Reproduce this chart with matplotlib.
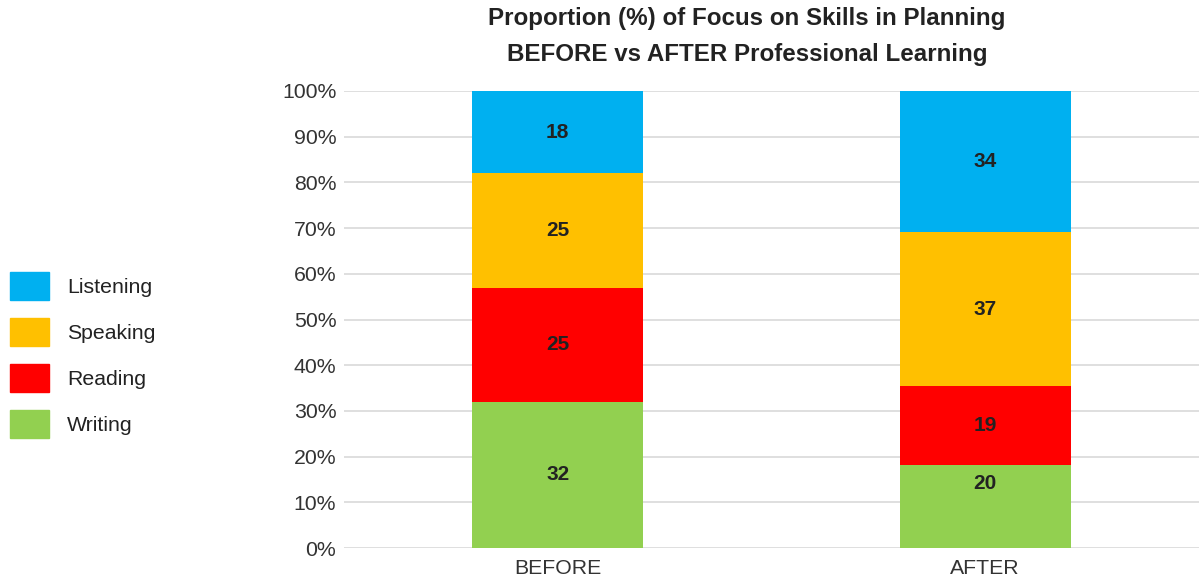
"""
Stacked 100% bar chart: focus on skills in planning, before vs after.
"""

import matplotlib.pyplot as plt
import numpy as np
from matplotlib.patches import Patch
from matplotlib.ticker import PercentFormatter

plt.rcParams['font.family'] = ['Liberation Sans', 'DejaVu Sans']

categories = ['BEFORE', 'AFTER']
skills = ['Writing', 'Reading', 'Speaking', 'Listening']
writing = [32, 20]
reading = [25, 19]
speaking = [25, 37]
listening = [18, 34]
colors = ['#92d050', '#ff0000', '#ffc000', '#00b0f0']

vals = np.array([writing, reading, speaking, listening], dtype=float)
pct = vals / vals.sum(axis=0) * 100

fig = plt.figure(figsize=(11.99, 5.79), dpi=100)
ax = fig.add_axes([344/1199, 1 - 548/579, 1 - 344/1199, (548 - 91)/579])

x = np.arange(len(categories))
bottom = np.zeros(len(categories))
for k in range(len(skills)):
    ax.bar(x, pct[k], 0.4, bottom=bottom, color=colors[k], zorder=2)
    for i in range(len(categories)):
        # label sits mid-segment, but not too close to the axis
        ylab = max(bottom[i] + pct[k][i] / 2, 14.2)
        ax.text(x[i], ylab, '%d' % vals[k][i],
                ha='center', va='center', fontsize=15, weight='bold',
                color='#222222', zorder=3)
    bottom += pct[k]

ax.set_xlim(-0.5, 1.5)
ax.set_ylim(0, 100)
ax.set_yticks(np.arange(0, 101, 10))
ax.yaxis.set_major_formatter(PercentFormatter(decimals=0))
ax.set_xticks(x)
ax.set_xticklabels(categories)
ax.tick_params(length=0, labelsize=15.3, colors='#333333')
ax.tick_params(axis='x', pad=8)
ax.tick_params(axis='y', pad=5.5)
ax.grid(axis='y', color='#d9d9d9', linewidth=1.2, zorder=0)
for s in ax.spines.values():
    s.set_visible(False)

fig.text(747/1199, 1 - 18/579, 'Proportion (%) of Focus on Skills in Planning',
         ha='center', va='center', fontsize=17.4, weight='bold', color='#222222')
fig.text(747/1199, 1 - 54/579, 'BEFORE vs AFTER Professional Learning',
         ha='center', va='center', fontsize=17.4, weight='bold', color='#222222')

handles = [Patch(color=colors[k], label=skills[k]) for k in range(3, -1, -1)]
fig.legend(handles=handles, loc='center left', bbox_to_anchor=(0.0, 1 - 355/579),
           frameon=False, fontsize=15.3, handlelength=1.83, handleheight=1.66,
           handletextpad=0.85, labelspacing=0.83, labelcolor='#222222',
           borderaxespad=0, borderpad=0.47)

fig.savefig('out.png', dpi=100)
